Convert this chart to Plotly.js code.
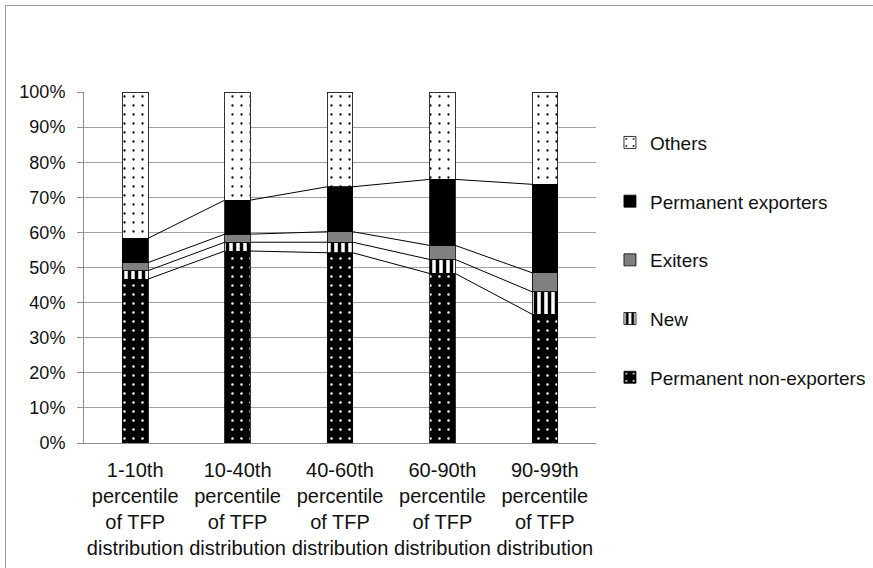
<!DOCTYPE html>
<html>
<head>
<meta charset="utf-8">
<script src="https://cdn.plot.ly/plotly-3.0.1.min.js"></script>
<style>
  html, body { margin: 0; padding: 0; background: #fff; }
  #frame { position: absolute; left: 5px; top: 5px; width: 900px; height: 600px;
           border-left: 1px solid #9a9a9a; border-top: 1px solid #9a9a9a; pointer-events: none; }
  #chart { position: absolute; left: 0; top: 0; width: 873px; height: 568px; }
</style>
</head>
<body>
<div id="chart"></div>
<div id="frame"></div>
<script>
// Share of firms by export status within each TFP distribution band (%)
const categories = [
  "1-10th<br>percentile<br>of TFP<br>distribution",
  "10-40th<br>percentile<br>of TFP<br>distribution",
  "40-60th<br>percentile<br>of TFP<br>distribution",
  "60-90th<br>percentile<br>of TFP<br>distribution",
  "90-99th<br>percentile<br>of TFP<br>distribution"
];
const permanentNonExporters = [46.7, 54.7, 54.2, 48.3, 36.7];
const newExporters          = [2.4, 2.5, 3.0, 4.0, 6.4];
const exiters               = [2.3, 2.3, 3.0, 4.0, 5.4];
const permanentExporters    = [6.9, 9.7, 12.8, 18.8, 25.2];
const others                = [41.7, 30.8, 27.0, 24.9, 26.3];
const yTicks = [0, 10, 20, 30, 40, 50, 60, 70, 80, 90, 100];

const FONT = "Liberation Sans, Arial, sans-serif";
const BAR_W = 0.25;
const xs = categories.map((_, i) => i);

const series = [
  { name: "Permanent non-exporters", y: permanentNonExporters,
    pattern: { shape: ".", fgcolor: "#ffffff", bgcolor: "#000000", size: 9, solidity: 0.06, fillmode: "replace" } },
  { name: "New", y: newExporters,
    pattern: { shape: "|", fgcolor: "#000000", bgcolor: "#ffffff", size: 7, solidity: 0.5, fillmode: "replace" } },
  { name: "Exiters", y: exiters, color: "#808080" },
  { name: "Permanent exporters", y: permanentExporters, color: "#000000" },
  { name: "Others", y: others,
    pattern: { shape: ".", fgcolor: "#000000", bgcolor: "#ffffff", size: 9, solidity: 0.05, fillmode: "replace" } }
];

const traces = series.map((s, k) => {
  const marker = { line: { color: "#000000", width: 0.8 } };
  if (s.pattern) { marker.color = s.pattern.bgcolor; marker.pattern = s.pattern; }
  else { marker.color = s.color; }
  return {
    type: "bar", name: s.name, x: xs, y: s.y, width: BAR_W,
    marker: marker, legendgroup: "g" + k, legendrank: series.length - k,
    hoverinfo: "name+y"
  };
});

// Series lines joining the top of each stacked segment between neighbouring bars
const cumulative = [];
let running = xs.map(() => 0);
series.slice(0, 4).forEach(s => {
  running = running.map((v, i) => v + s.y[i]);
  cumulative.push(running.slice());
});
cumulative.forEach(level => {
  const lx = [], ly = [];
  for (let i = 0; i < xs.length - 1; i++) {
    lx.push(xs[i] + BAR_W / 2, xs[i + 1] - BAR_W / 2, null);
    ly.push(level[i], level[i + 1], null);
  }
  traces.push({
    type: "scatter", mode: "lines", x: lx, y: ly, showlegend: false,
    hoverinfo: "skip", line: { color: "#000000", width: 1 }
  });
});

const layout = {
  width: 873, height: 568,
  margin: { l: 84, r: 277, t: 92, b: 125 },
  paper_bgcolor: "#ffffff", plot_bgcolor: "#ffffff",
  barmode: "stack",
  font: { family: FONT, size: 19, color: "#111111" },
  showlegend: true,
  legend: {
    xref: "container", yref: "container",
    x: 0.6987, xanchor: "left", y: 0.7824, yanchor: "top",
    traceorder: "grouped", tracegroupgap: 31,
    font: { family: FONT, size: 19, color: "#111111" },
    bgcolor: "rgba(0,0,0,0)"
  },
  xaxis: {
    range: [-0.5, 4.5], tickvals: xs, ticktext: categories, tickangle: 0,
    showgrid: false, zeroline: false, showline: true, linecolor: "#8c8c8c", linewidth: 1,
    ticks: "", ticklabelstandoff: 9,
    tickfont: { family: FONT, size: 20, color: "#111111" }, fixedrange: true
  },
  yaxis: {
    range: [0, 100], tickvals: yTicks, ticktext: yTicks.map(v => v + "%"),
    showgrid: true, gridcolor: "#a3a3a3", gridwidth: 1, zeroline: false,
    showline: true, linecolor: "#8c8c8c", linewidth: 1,
    ticks: "outside", ticklen: 6, tickcolor: "#8c8c8c", ticklabelstandoff: 8,
    tickfont: { family: FONT, size: 18, color: "#111111" }, fixedrange: true
  }
};

Plotly.newPlot("chart", traces, layout, { displayModeBar: false, staticPlot: true });
</script>
</body>
</html>
